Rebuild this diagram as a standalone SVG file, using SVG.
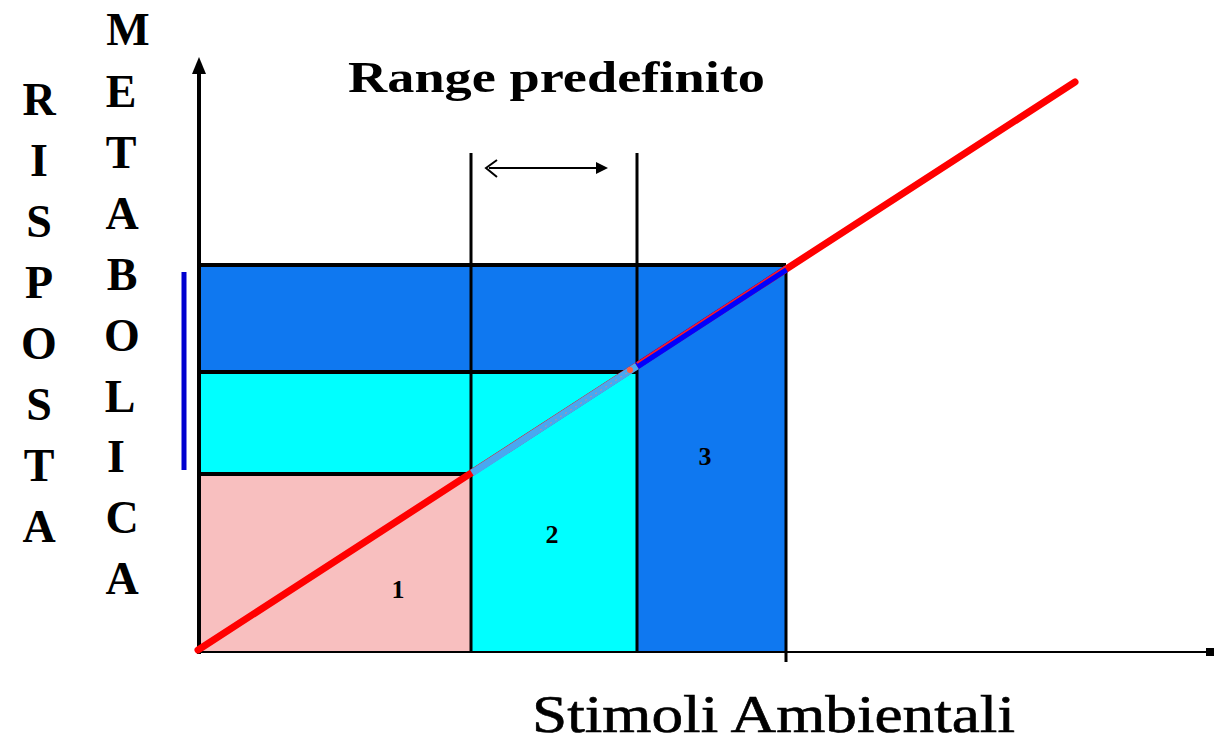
<svg xmlns="http://www.w3.org/2000/svg" width="1216" height="746" viewBox="0 0 1216 746">
<style>
.lbl{font-family:"Liberation Serif","Times New Roman",serif;font-weight:bold;fill:#000}
.vl{font-size:46px;text-anchor:middle}
.num{font-size:26px;text-anchor:middle}
.bk{stroke:#000;fill:none}
</style>
<rect width="1216" height="746" fill="#fff"/>
<g id="regions">
<rect id="r-top" x="198" y="265" width="588" height="107" fill="#0f78f0"/>
<rect id="r-mid" x="198" y="372" width="439" height="102" fill="#00ffff"/>
<rect id="r-1" x="198" y="474" width="272" height="178" fill="#f8bfbf"/>
<rect id="r-2" x="470" y="474" width="167" height="178" fill="#00ffff"/>
<rect id="r-3" x="637" y="372" width="149" height="280" fill="#0f78f0"/>
</g>
<g id="connectors">
<line class="bk" x1="198" y1="265" x2="786" y2="265" stroke-width="4"/>
<line class="bk" x1="198" y1="372" x2="637" y2="372" stroke-width="4"/>
<line class="bk" x1="198" y1="474" x2="470" y2="474" stroke-width="4"/>
<line class="bk" x1="471" y1="153" x2="471" y2="652" stroke-width="3"/>
<line class="bk" x1="637" y1="153" x2="637" y2="652" stroke-width="3"/>
<line class="bk" x1="786" y1="265" x2="786" y2="662" stroke-width="3"/>
<line class="bk" x1="198" y1="652" x2="1208" y2="652" stroke-width="2"/>
<rect x="1206" y="648" width="8" height="8" fill="#000"/>
<line class="bk" x1="199" y1="654" x2="199" y2="64" stroke-width="4"/>
<path d="M192,74 L199,57 L206,74 Z" fill="#000"/>
<line x1="184" y1="272" x2="184" y2="470" stroke="#0000d0" stroke-width="5"/>
<line x1="198" y1="650" x2="1075" y2="82" stroke="#ff0000" stroke-width="7" stroke-linecap="round"/>
<line x1="472" y1="473" x2="637" y2="366" stroke="#48a8f0" stroke-width="7"/>
<line x1="540" y1="430" x2="630" y2="371" stroke="#f08080" stroke-width="1.2" stroke-dasharray="2 4" opacity="0.6"/>
<line x1="637" y1="366" x2="786" y2="269" stroke="#0000ff" stroke-width="7"/>
<line x1="637" y1="363" x2="786" y2="266" stroke="#ff2020" stroke-width="1.5"/>
<circle cx="630" cy="370" r="3" fill="#ff6040"/>
<line x1="489" y1="168" x2="600" y2="168" stroke="#000" stroke-width="2"/>
<path d="M497,160 L486,168 L497,177" fill="none" stroke="#000" stroke-width="2"/>
<path d="M596,162 L608,168 L596,174 Z" fill="#000"/>
</g>
<g id="title">
<text class="lbl" x="348" y="92" font-size="45" textLength="417" lengthAdjust="spacingAndGlyphs">Range predefinito</text>
</g>
<g id="xlabel">
<text x="532" y="732" font-family="Liberation Serif, Times New Roman, serif" font-size="52" stroke="#000" stroke-width="0.6" textLength="483" lengthAdjust="spacingAndGlyphs">Stimoli Ambientali</text>
</g>
<g id="ylabel1">
<text class="lbl vl" x="39" y="115">R</text>
<text class="lbl vl" x="39" y="176">I</text>
<text class="lbl vl" x="39" y="237">S</text>
<text class="lbl vl" x="39" y="298">P</text>
<text class="lbl vl" x="39" y="359">O</text>
<text class="lbl vl" x="39" y="420">S</text>
<text class="lbl vl" x="39" y="481">T</text>
<text class="lbl vl" x="39" y="542">A</text>
</g>
<g id="ylabel2">
<text class="lbl vl" x="128" y="45">M</text>
<text class="lbl vl" x="121" y="107">E</text>
<text class="lbl vl" x="121" y="168">T</text>
<text class="lbl vl" x="122" y="229">A</text>
<text class="lbl vl" x="122" y="290">B</text>
<text class="lbl vl" x="122" y="351">O</text>
<text class="lbl vl" x="120" y="412">L</text>
<text class="lbl vl" x="116" y="472">I</text>
<text class="lbl vl" x="122" y="533">C</text>
<text class="lbl vl" x="122" y="594">A</text>
</g>
<g id="labels">
<text class="lbl num" x="398" y="598">1</text>
<text class="lbl num" x="552" y="543">2</text>
<text class="lbl num" x="705" y="465">3</text>
</g>
</svg>
